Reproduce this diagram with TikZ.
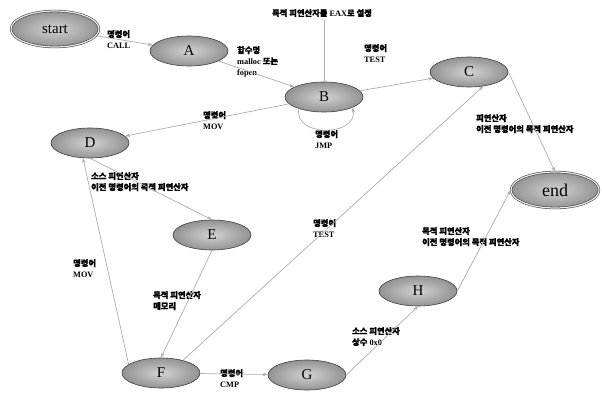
\documentclass[tikz,border=0pt]{standalone}
\usepackage{fontspec}
\setmainfont{Liberation Serif}
\newfontfamily\krfont[FakeBold=1.2]{Noto Sans CJK KR}
\newcommand{\hkr}[1]{{\krfont #1}}
\usetikzlibrary{shapes.geometric}
\usetikzlibrary{arrows.meta}

\tikzset{
    state/.style={ellipse, draw=gray!50!black, line width=0.6pt, inner color=gray!35, outer color=gray!85,
        minimum width=78pt, minimum height=30pt, inner sep=0pt, font=\fontsize{15}{15}\selectfont},
    term/.style={state, double=gray!15, double distance=1.2pt, minimum width=88pt, minimum height=36pt},
    link/.style={draw=gray!65, line width=0.7pt, -{Stealth[length=5pt,width=3.5pt]}},
    lbl/.style={anchor=north west, align=left, inner sep=0pt, font=\fontsize{8.3}{11}\selectfont\bfseries},
}

\begin{document}
\begin{tikzpicture}[x=1pt, y=1pt]
    \useasboundingbox (0,0) rectangle (602,-396);

    \node[term] (start) at (55,-29) {start};
    \node[state] (A) at (189,-51) {A};
    \node[state] (B) at (324,-97) {B};
    \node[state] (C) at (469,-72) {C};
    \node[state] (D) at (90,-143) {D};
    \node[state] (E) at (212,-235) {E};
    \node[term, font=\fontsize{18}{18}\selectfont] (stop) at (555,-190) {end};
    \node[state] (F) at (161,-373) {F};
    \node[state] (G) at (307,-375) {G};
    \node[state] (H) at (418,-291) {H};

    \node[lbl] (callLbl) at (107,-30) {\hkr{명령어}\\CALL};
    \node[lbl] (funcLbl) at (237,-46) {\hkr{함수명}\\malloc \hkr{또는}\\fopen};
    \node[lbl, anchor=north] (eaxLbl) at (322,-9) {\hkr{목적 피연산자를} EAX\hkr{로 설정}};
    \node[lbl] (testLbl) at (364,-44) {\hkr{명령어}\\TEST};
    \node[lbl] (movLbl) at (203,-111) {\hkr{명령어}\\MOV};
    \node[lbl] (jmpLbl) at (315,-130) {\hkr{명령어}\\JMP};
    \node[lbl] (cEndLbl) at (476,-114) {\hkr{피연산자}\\\hkr{이전 명령어의 목적 피연산자}};
    \node[lbl] (deLbl) at (91,-172) {\hkr{소스 피연산자}\\\hkr{이전 명령어의 목적 피연산자}};
    \node[lbl] (fcLbl) at (313,-219) {\hkr{명령어}\\TEST};
    \node[lbl] (hEndLbl) at (422,-227) {\hkr{목적 피연산자}\\\hkr{이전 명령어의 목적 피연산자}};
    \node[lbl] (fdLbl) at (73,-259) {\hkr{명령어}\\MOV};
    \node[lbl] (efLbl) at (153,-291) {\hkr{목적 피연산자}\\\hkr{메모리}};
    \node[lbl] (cmpLbl) at (220,-369) {\hkr{명령어}\\CMP};
    \node[lbl] (ghLbl) at (352,-327) {\hkr{소스 피연산자}\\\hkr{상수} 0x0};

    \draw[link] (start) -- (A);
    \draw[link] (A) -- (B);
    \draw[draw=gray!65, line width=0.7pt, shorten <=3pt] (B.north |- eaxLbl.south) -- (B.north);
    \draw[link] (B) -- (C);
    \draw[link] (B) -- (D);
    \draw[link] (B.205) to[out=-100, in=-80, looseness=1.4] (B.-20);
    \draw[link] (C.east) -- (stop.north);
    \draw[link] (D.south) -- (E.north);
    \draw[link] (E.south) -- (F.north);
    \draw[link] (F.165) -- (D.245);
    \draw[link] (F.30) -- (C.-45);
    \draw[link] (F) -- (G);
    \draw[link] (G.east) -- (H.south);
    \draw[link] (H.east) -- (stop.west);

\end{tikzpicture}
\end{document}
